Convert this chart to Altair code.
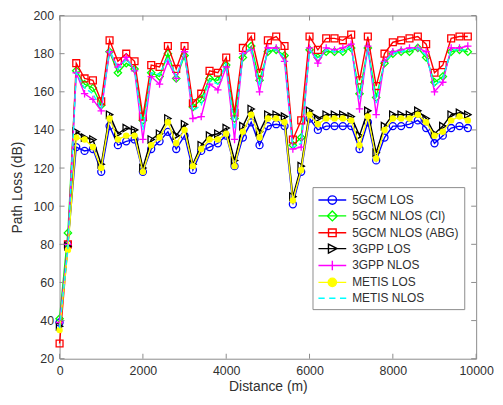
import altair as alt
import pandas as pd

distance = list(range(0, 10000, 200))
names = ["5GCM LOS", "5GCM NLOS (CI)", "5GCM NLOS (ABG)", "3GPP LOS",
         "3GPP NLOS", "METIS LOS", "METIS NLOS"]

gcm_los = [39, 80, 131, 129, 130, 118, 142, 132, 134, 135, 118, 130, 134, 139, 130, 137, 119, 129, 131, 133,
           137, 121, 136, 144, 132, 142, 143, 142, 101, 118, 146, 140, 142, 142, 142, 142, 130, 144, 124, 136,
           142, 142, 143, 145, 141, 133, 137, 141, 142, 141]
gcm_nlos_ci = [41, 86, 171, 164, 162, 153, 181, 170, 175, 172, 145, 170, 168, 180, 167, 179, 152, 156, 167, 166,
               174, 146, 178, 184, 166, 181, 182, 179, 132, 136, 182, 178, 181, 181, 181, 183, 159, 183, 157, 175,
               180, 181, 181, 183, 178, 165, 168, 181, 182, 181]
gcm_nlos_abg = [28, 80, 175, 167, 166, 155, 187, 176, 180, 176, 147, 174, 173, 184, 172, 184, 154, 159, 171, 170,
                178, 149, 183, 189, 170, 187, 189, 184, 135, 145, 189, 182, 188, 188, 187, 190, 166, 189, 163, 180,
                186, 187, 188, 189, 185, 170, 174, 188, 189, 189]
gpp_los = [37, 79, 139, 136, 135, 122, 148, 138, 141, 140, 120, 135, 138, 146, 137, 143, 122, 132, 137, 138,
           141, 124, 142, 151, 139, 148, 148, 147, 105, 121, 150, 146, 148, 148, 148, 147, 137, 150, 128, 142,
           148, 148, 148, 150, 146, 138, 142, 148, 149, 148]
gpp_nlos = [39, 80, 170, 159, 156, 150, 181, 173, 178, 171, 135, 168, 164, 176, 167, 181, 146, 147, 164, 161,
            173, 135, 180, 182, 160, 183, 183, 176, 130, 131, 183, 175, 183, 182, 183, 185, 151, 184, 148, 176,
            181, 182, 183, 183, 181, 160, 165, 183, 183, 184]
metis_los = [35, 77, 136, 135, 131, 120, 146, 135, 137, 137, 118, 132, 136, 144, 133, 140, 121, 130, 135, 135,
             138, 121, 139, 148, 136, 146, 146, 144, 103, 119, 148, 143, 146, 146, 146, 145, 132, 147, 125, 140,
             146, 146, 146, 148, 144, 137, 139, 145, 147, 145]
metis_nlos = [36, 78, 170, 162, 159, 151, 182, 172, 177, 172, 140, 170, 169, 178, 168, 180, 150, 153, 166, 164,
              175, 140, 180, 183, 163, 182, 182, 178, 131, 133, 182, 177, 182, 181, 181, 184, 156, 183, 154, 176,
              180, 181, 182, 183, 179, 163, 167, 182, 182, 182]

x_ticks = [0, 2000, 4000, 6000, 8000, 10000]
y_ticks = [20, 40, 60, 80, 100, 120, 140, 160, 180, 200]

series = [gcm_los, gcm_nlos_ci, gcm_nlos_abg, gpp_los, gpp_nlos, metis_los, metis_nlos]
colors = ["#0000ff", "#00ff00", "#ff0000", "#000000", "#ff00ff", "#ffff00", "#00ffff"]
fills = ["transparent", "transparent", "transparent", "transparent", "transparent", "#ffff00", "transparent"]
plus = "M-1,0L1,0M0,-1L0,1"
shapes = ["circle", "diamond", "square", "triangle-right", plus, "circle", None]
sizes = [50, 55, 48, 55, 55, 42, 0]
filled = [False, False, False, False, False, True, False]

circ = "M-0.6,0A0.6,0.6,0,1,0,0.6,0A0.6,0.6,0,1,0,-0.6,0Z"
line = "M-2,0L2,0"
legend_paths = [
    line + circ,
    line + "M0,-0.72L0.72,0L0,0.72L-0.72,0Z",
    line + "M-0.55,-0.55L0.55,-0.55L0.55,0.55L-0.55,0.55Z",
    line + "M-0.56,-0.64L0.68,0L-0.56,0.64Z",
    line + "M0,-0.68L0,0.68",
    line + circ,
    "M-2,0L-1.1,0M-0.45,0L0.45,0M1.1,0L2,0",
]

rows = []
for n, vals in zip(names, series):
    for d, v in zip(distance, vals):
        rows.append({"d": d, "v": v, "s": n})
df = pd.DataFrame(rows)

FONT = "Liberation Sans"
TXT = "#303030"
FRAME = "#8c8c8c"
W = 420
H = 346

xs = alt.Scale(domain=[0, 10000], nice=False, zero=False)
ys = alt.Scale(domain=[20, 200], nice=False, zero=False)
axis_kw = dict(domain=False, ticks=False, grid=False, labelPadding=6, format="d", labelFlush=False,
               labelFont=FONT, titleFont=FONT, labelFontSize=12.5, titleFontSize=14,
               labelColor=TXT, titleColor=TXT, titleFontWeight="normal")
X = alt.X("d:Q", scale=xs, axis=alt.Axis(values=x_ticks, title="Distance (m)", titlePadding=3, **axis_kw))
Y = alt.Y("v:Q", scale=ys, axis=alt.Axis(values=y_ticks, title="Path Loss (dB)", titlePadding=9, **axis_kw))

layers = []
for i, n in enumerate(names):
    b = alt.Chart(df).transform_filter(alt.datum.s == n)
    kw = dict(color=colors[i], strokeWidth=1.4)
    if n == "METIS NLOS":
        kw["strokeDash"] = [5, 3]
    layers.append(b.mark_line(**kw).encode(x=X, y=Y))
    if shapes[i]:
        layers.append(b.mark_point(shape=shapes[i], size=sizes[i], filled=filled[i],
                                   color=colors[i], strokeWidth=1.3, opacity=1).encode(x=X, y=Y))

# inward ticks (MATLAB style)
xt = pd.DataFrame({"d": x_ticks})
yt = pd.DataFrame({"v": y_ticks})
layers.append(alt.Chart(xt).mark_rule(color=FRAME, strokeWidth=1).encode(x=X, y=alt.value(H), y2=alt.value(H - 5)))
layers.append(alt.Chart(xt).mark_rule(color=FRAME, strokeWidth=1).encode(x=X, y=alt.value(0), y2=alt.value(5)))
layers.append(alt.Chart(yt).mark_rule(color=FRAME, strokeWidth=1).encode(y=Y, x=alt.value(0), x2=alt.value(5)))
layers.append(alt.Chart(yt).mark_rule(color=FRAME, strokeWidth=1).encode(y=Y, x=alt.value(W), x2=alt.value(W - 5)))

LFS = 12
legend_kw = dict(title=None, orient="none", legendX=255, legendY=173, padding=5,
                 fillColor="white", strokeColor=FRAME, symbolSize=196, symbolStrokeWidth=1.4,
                 labelFont=FONT, labelFontSize=LFS, labelColor=TXT, labelOffset=12, symbolOffset=7,
                 rowPadding=1, symbolOpacity=1, labelLimit=300)
leg = alt.Chart(df).transform_filter("false").mark_point(filled=True, opacity=1).encode(
    x=X, y=Y,
    shape=alt.Shape("s:N", scale=alt.Scale(domain=names, range=legend_paths), legend=alt.Legend(**legend_kw)),
    stroke=alt.Stroke("s:N", scale=alt.Scale(domain=names, range=colors), legend=alt.Legend(**legend_kw)),
    fill=alt.Fill("s:N", scale=alt.Scale(domain=names, range=fills), legend=alt.Legend(**legend_kw)),
)
layers.append(leg)

chart = alt.layer(*layers).properties(
    width=W, height=H, autosize="none", background="white",
    padding={"left": 52, "top": 6, "right": 19, "bottom": 37},
).configure_view(stroke=FRAME, strokeWidth=1).configure_legend(
    labelFont=FONT, labelFontSize=LFS, labelColor=TXT,
)

chart.save("out.html", embed_options={"renderer": "svg", "actions": False})
